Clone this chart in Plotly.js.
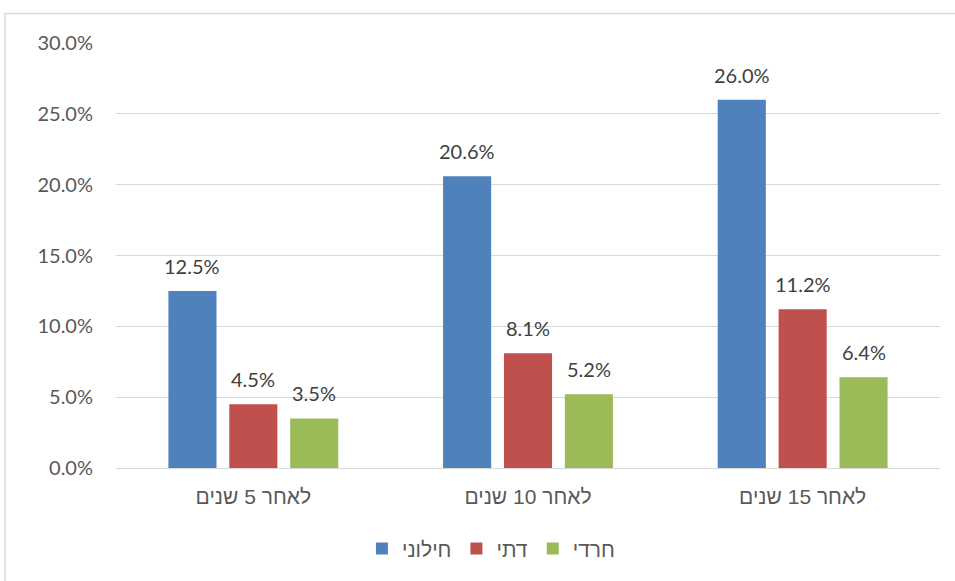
<!DOCTYPE html>
<html>
<head>
<meta charset="utf-8">
<script src="https://cdn.plot.ly/plotly-3.0.1.min.js"></script>
<style>html,body{margin:0;padding:0;background:#fff;}#chart{width:955px;height:581px;}</style>
</head>
<body>
<div id="chart"></div>
<script>
const categories = ["לאחר 5 שנים", "לאחר 10 שנים", "לאחר 15 שנים"];
const seriesNames = ["חילוני", "דתי", "חרדי"];
const secular = [12.5, 20.6, 26.0];
const religious = [4.5, 8.1, 11.2];
const haredi = [3.5, 5.2, 6.4];
const yTicks = [0, 5, 10, 15, 20, 25, 30];

const colors = ["#4f81bd", "#c0504d", "#9bbb59"];
const seriesValues = [secular, religious, haredi];
const shifts = [-61, 0, 61];

const traces = seriesValues.map((vals, i) => ({
  type: "bar",
  name: seriesNames[i],
  x: categories,
  y: vals,
  marker: {color: colors[i]},
  hoverinfo: "none"
}));

const numFont = "Lato, 'Open Sans', sans-serif";
const hebFont = "'Liberation Sans', Arial, sans-serif";

const annotations = [];
seriesValues.forEach((vals, i) => {
  vals.forEach((v, j) => {
    annotations.push({
      x: categories[j], y: v, xref: "x", yref: "y",
      text: v.toFixed(1) + "%",
      showarrow: false,
      xshift: shifts[i], yshift: 25,
      font: {family: numFont, size: 20, color: "#404040"}
    });
  });
});

const layout = {
  width: 955, height: 581,
  margin: {l: 116, r: 15, t: 43, b: 113},
  paper_bgcolor: "#ffffff", plot_bgcolor: "#ffffff",
  barmode: "group", bargap: 0.335, bargroupgap: 0.21,
  showlegend: true,
  legend: {orientation: "h", x: 0.455, xanchor: "center", y: -0.19, yanchor: "middle",
    font: {family: hebFont, size: 21, color: "#595959"},
    itemwidth: 30, traceorder: "normal"},
  xaxis: {type: "category", showgrid: false, zeroline: false, showline: false, ticks: "",
    ticklabelstandoff: 14,
    tickfont: {family: hebFont, size: 21, color: "#595959"},
    automargin: false},
  yaxis: {range: [0, 30], tickvals: yTicks, ticktext: yTicks.map(t => t.toFixed(1) + "%"),
    showgrid: true, gridcolor: "#d9d9d9", gridwidth: 1, zeroline: true, zerolinecolor: "#d9d9d9",
    showline: false, ticks: "", ticklabelstandoff: 22,
    tickfont: {family: numFont, size: 20, color: "#595959"},
    automargin: false},
  annotations: annotations,
  shapes: [{type: "rect", xref: "paper", yref: "paper",
    x0: (5 - 116) / 824, x1: 1.2, y0: -0.6, y1: (468 - 13.5) / 425,
    line: {color: "#d9d9d9", width: 1.5}, fillcolor: "rgba(0,0,0,0)", layer: "below"}]
};

Plotly.newPlot("chart", traces, layout, {displayModeBar: false, staticPlot: true});
</script>
</body>
</html>
